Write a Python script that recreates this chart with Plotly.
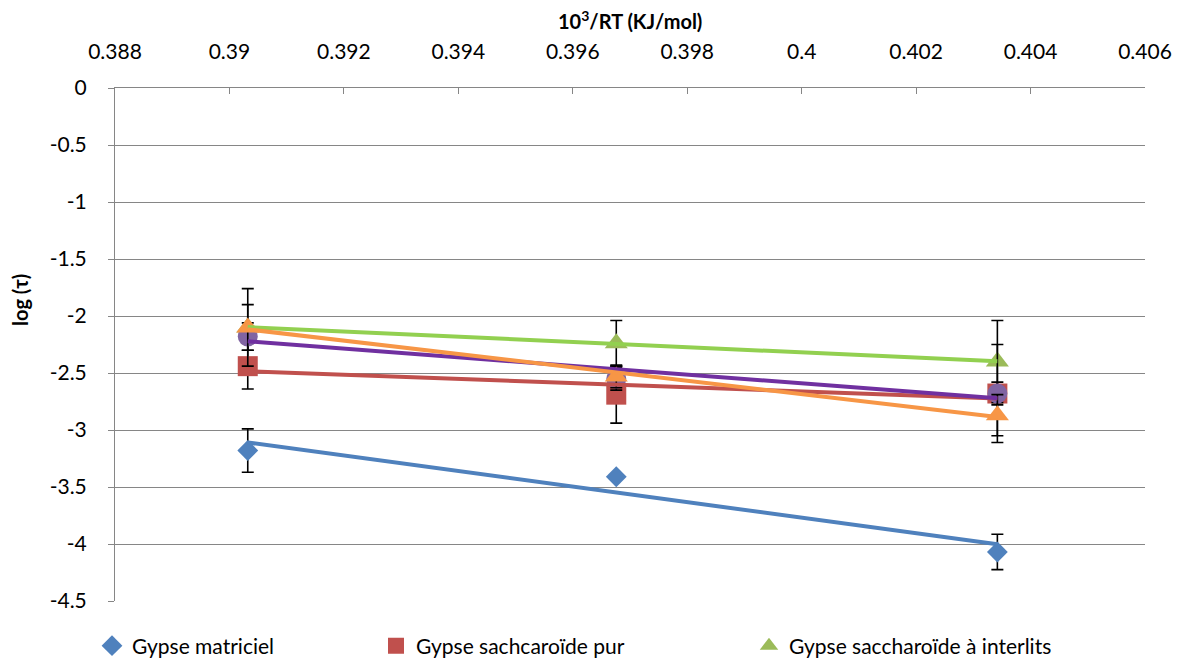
import numpy as np
import plotly.graph_objects as go

# ---- data ----
x_vals = [0.39032, 0.39676, 0.40342]

names = ["Gypse matriciel", "Gypse sachcaroïde pur", "Gypse saccharoïde à interlits",
         "Série 4", "Série 5"]
y_matriciel = [-3.18, -3.41, -4.07]
e_matriciel = [0.19, 0.0, 0.155]
y_pur = [-2.44, -2.69, -2.68]
e_pur = [0.20, 0.25, 0.10]
y_interlits = [-2.10, -2.24, -2.40]
e_interlits = [0.34, 0.20, 0.36]
y_s4 = [-2.18, -2.55, -2.68]
e_s4 = [0.12, 0.10, 0.43]
y_s5 = [-2.10, -2.53, -2.87]
e_s5 = [0.20, 0.10, 0.18]

x_ticks = [0.388, 0.39, 0.392, 0.394, 0.396, 0.398, 0.4, 0.402, 0.404, 0.406]
x_ticktext = ["0.388", "0.39", "0.392", "0.394", "0.396", "0.398", "0.4", "0.402", "0.404", "0.406"]
y_ticks = [0, -0.5, -1, -1.5, -2, -2.5, -3, -3.5, -4, -4.5]
y_ticktext = ["0", "-0.5", "-1", "-1.5", "-2", "-2.5", "-3", "-3.5", "-4", "-4.5"]

series = [
    (y_matriciel, e_matriciel, "diamond", 16, "#4F81BD", "#4F81BD", "legend"),
    (y_pur, e_pur, "square", 20, "#C0504D", "#C0504D", "legend2"),
    (y_interlits, e_interlits, "triangle-up", 20, "#9BBB59", "#92D050", "legend3"),
    (y_s4, e_s4, "circle", 20, "#8064A2", "#7030A0", None),
    (y_s5, e_s5, "triangle-up", 20, "#F79646", "#F79646", None),
]

FONT = "Lato, Carlito, Calibri, sans-serif"
fig = go.Figure()

for (ys, es, sym, size, mcol, lcol, leg), name in zip(series, names):
    fig.add_trace(go.Scatter(
        x=x_vals, y=ys, mode="markers", name=name,
        marker=dict(symbol=sym, size=size, color=mcol),
        error_y=dict(type="data", array=es, visible=True, color="black", thickness=1.6, width=6),
        showlegend=leg is not None,
        legend=leg if leg else "legend",
    ))

for (ys, es, sym, size, mcol, lcol, leg), name in zip(series, names):
    k, b = np.polyfit(x_vals, ys, 1)
    xs = [x_vals[0], x_vals[-1]]
    fig.add_trace(go.Scatter(
        x=xs, y=[k * v + b for v in xs], mode="lines",
        line=dict(color=lcol, width=4), showlegend=False, hoverinfo="skip",
    ))

# page body has an 8px margin, so figure coordinates = screen - 8
W, H = 1173, 658
l, r, t, b = 107, 36, 80, 65
pw, ph = W - l - r, H - t - b

def px_x(p):
    return (p - l) / pw

def px_y(p):
    return 1 - (p - t) / ph

legend_common = dict(orientation="h", yanchor="middle", y=px_y(638), xanchor="left",
                     font=dict(family=FONT, size=21, color="black"),
                     bgcolor="rgba(0,0,0,0)", itemwidth=30)

fig.update_layout(
    width=W, height=H,
    margin=dict(l=l, r=r, t=t, b=b, autoexpand=False),
    paper_bgcolor="white", plot_bgcolor="white",
    font=dict(family=FONT, size=21, color="black"),
    legend=dict(x=px_x(84), **legend_common),
    legend2=dict(x=px_x(368), **legend_common),
    legend3=dict(x=px_x(741), **legend_common),
    xaxis=dict(
        side="top", range=[0.388, 0.406], tickvals=x_ticks, ticktext=x_ticktext,
        showgrid=False, zeroline=False, showline=True, linecolor="#868686", linewidth=1,
        ticks="inside", ticklen=6, tickcolor="#868686", automargin=False,
        ticklabelstandoff=20,
        tickfont=dict(family=FONT, size=21),
    ),
    yaxis=dict(
        range=[-4.5, 0], tickvals=y_ticks, ticktext=y_ticktext,
        showgrid=True, gridcolor="#868686", gridwidth=1, zeroline=False,
        showline=True, linecolor="#868686", linewidth=1,
        ticks="outside", ticklen=6, tickcolor="#868686", automargin=False,
        ticklabelstandoff=17,
        tickfont=dict(family=FONT, size=21),
    ),
    annotations=[
        dict(
            text="<b>10<sup>3</sup>/RT (KJ/mol)</b>", xref="paper", yref="paper",
            x=0.5, y=px_y(12), showarrow=False,
            font=dict(family=FONT, size=20), xanchor="center", yanchor="middle",
        ),
        dict(
            text="<b>log (τ)</b>", textangle=-90, xref="paper", yref="paper",
            x=px_x(12), y=px_y(292), showarrow=False,
            font=dict(family=FONT, size=20), xanchor="center", yanchor="middle",
        ),
    ],
)

fig.write_html("out.html")
